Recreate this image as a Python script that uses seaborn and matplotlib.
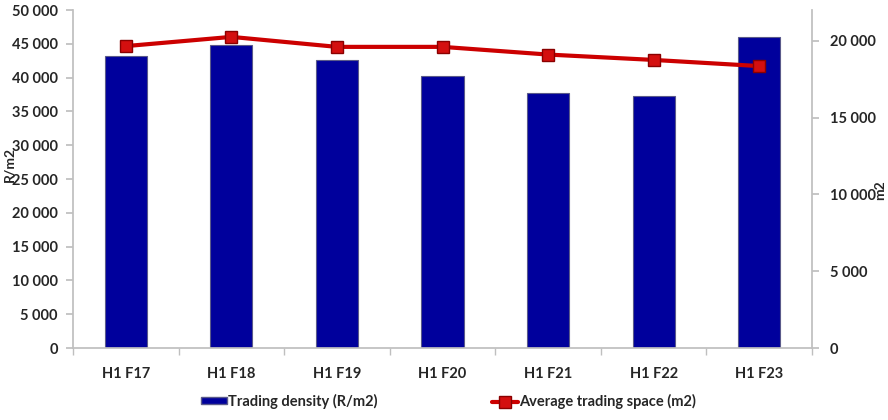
import matplotlib
matplotlib.use("Agg")
import matplotlib.pyplot as plt
import seaborn as sns
import pandas as pd
from matplotlib.ticker import FuncFormatter, MultipleLocator
from matplotlib.lines import Line2D
from matplotlib.patches import Patch

periods = ["H1 F17", "H1 F18", "H1 F19", "H1 F20", "H1 F21", "H1 F22", "H1 F23"]
trading_density = [43200, 44800, 42600, 40200, 37700, 37300, 46000]
avg_trading_space = [19650, 20250, 19600, 19600, 19100, 18750, 18350]

sns.set_theme(style="white")
plt.rcParams["font.family"] = ["Lato", "DejaVu Sans"]
plt.rcParams["font.weight"] = "bold"

df = pd.DataFrame({"period": periods, "density": trading_density, "space": avg_trading_space})

fig = plt.figure(figsize=(8.88, 4.2), dpi=100)
ax = fig.add_axes([73 / 888, 1 - 348 / 420, (812 - 73) / 888, 338 / 420])

bar_col = "#00009C"
sns.barplot(data=df, x="period", y="density", color=bar_col, width=0.4,
            edgecolor="#5A5A8A", linewidth=0.8, saturation=1, ax=ax)

ax2 = ax.twinx()
sns.lineplot(x=list(range(len(periods))), y=df["space"], ax=ax2, color="#CC0000",
             linewidth=3, marker="s", markersize=9, markerfacecolor="#D40F0F",
             markeredgecolor="#8A0000", markeredgewidth=1)

fmt = FuncFormatter(lambda v, p: f"{int(v):,}".replace(",", " "))
ax.set_ylim(0, 50000)
ax.yaxis.set_major_locator(MultipleLocator(5000))
ax.yaxis.set_major_formatter(fmt)
ax2.set_ylim(0, 22000)
ax2.yaxis.set_major_locator(MultipleLocator(5000))
ax2.yaxis.set_major_formatter(fmt)
ax.set_xlim(-0.5, len(periods) - 0.5)

ax.set_xlabel("")
ax.set_ylabel("")
ax2.set_ylabel("")
fig.text(9 / 888, 1 - 164 / 420, "R/m2", rotation=90, ha="center", va="center",
         fontsize=10, fontweight="bold")
fig.text(880 / 888, 1 - 190 / 420, "m2", rotation=90, ha="center", va="center",
         fontsize=10, fontweight="bold")

spine_col = "#BFBFBF"
for a in (ax, ax2):
    for s in a.spines.values():
        s.set_visible(False)
ax.spines["left"].set_visible(True)
ax.spines["left"].set_color(spine_col)
ax.spines["bottom"].set_visible(True)
ax.spines["bottom"].set_color(spine_col)
ax2.spines["right"].set_visible(True)
ax2.spines["right"].set_color(spine_col)

ax.tick_params(axis="y", left=True, length=5, color=spine_col, labelsize=10.5, pad=6)
ax2.tick_params(axis="y", right=True, length=5, color=spine_col, labelsize=10.5, pad=8)
ax.tick_params(axis="x", bottom=False, labelsize=10.5, pad=8)
ax.set_xticks(range(len(periods)))
ax.set_xticklabels(periods, fontweight="bold")
ax.set_xticks([i + 0.5 for i in range(-1, len(periods))], minor=True)
ax.tick_params(axis="x", which="minor", bottom=True, length=5, color=spine_col)
for lbl in ax.get_yticklabels() + ax2.get_yticklabels():
    lbl.set_fontweight("bold")

handles = [
    Patch(facecolor=bar_col, edgecolor="#5A5A8A", label="Trading density (R/m2)"),
    Line2D([0], [0], color="#CC0000", linewidth=3, marker="s", markersize=8,
           markerfacecolor="#D40F0F", markeredgecolor="#8A0000", label="Average trading space (m2)"),
]
fig.legend(handles=handles, loc="lower center", bbox_to_anchor=(0.505, -0.005), ncol=2,
           frameon=False, columnspacing=7.8, handlelength=1.8, handleheight=0.4,
           handletextpad=0.1, prop={"size": 10.5, "weight": "bold"})

fig.savefig("out.png", dpi=100)
